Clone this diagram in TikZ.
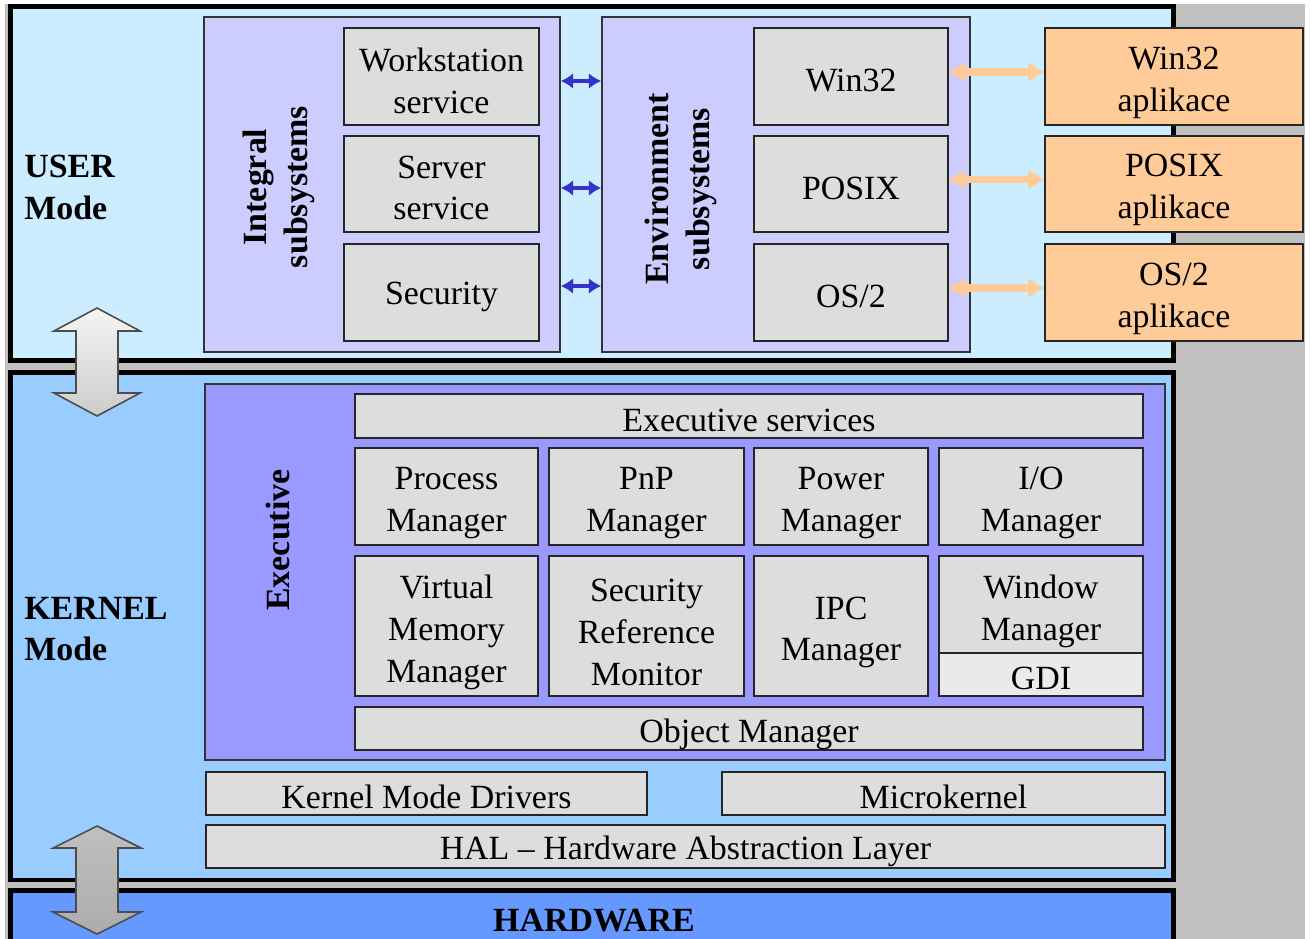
\documentclass[tikz,border=0pt]{standalone}
\usepackage{fontspec}
\setmainfont{Liberation Serif}
\usetikzlibrary{arrows.meta}
\definecolor{bggray}{HTML}{C0C0C0}
\definecolor{userbg}{HTML}{CCECFF}
\definecolor{kernbg}{HTML}{99CCFF}
\definecolor{hwbg}{HTML}{6699FF}
\definecolor{lav}{HTML}{CCCCFF}
\definecolor{execbg}{HTML}{9999FF}
\definecolor{boxgray}{HTML}{DDDDDD}
\definecolor{gdigray}{HTML}{EAEAEA}
\definecolor{appor}{HTML}{FFCC99}
\definecolor{arrblue}{HTML}{3333CC}
\def\tsh{0.1cm}
\newcommand\bx[7][box]{\node[#1, minimum width={(#5-#3)*0.02cm}, minimum height={(#6-#4)*0.02cm}] (#2) at ({(#3+#5)/2},{(#4+#6)/2}) {};
  \node[txt] (#2t) at ([yshift=-\tsh]#2.center) {#7};}
\tikzset{
  txt/.style={font=\fontsize{19.3}{23.8}\selectfont, align=center, inner sep=0pt},
  box/.style={draw=black!85, fill=boxgray, line width=1.1pt, inner sep=0pt},
  appbox/.style={box, fill=appor},
  gdibox/.style={box, fill=gdigray},
  grp/.style={draw=black!80, line width=0.9pt, fill=lav, inner sep=0pt},
  execgrp/.style={grp, fill=execbg},
  panel/.style={draw=black, line width=2.7pt, inner sep=0pt},
  lbl/.style={txt, font=\fontsize{19.3}{23.5}\selectfont\bfseries},
  barr/.style={draw=arrblue, line width=2.1pt, {Latex[length=7pt,width=9pt]}-{Latex[length=7pt,width=9pt]}},
  oarr/.style={draw=appor, line width=4pt, {Triangle[length=9pt,width=10pt]}-{Triangle[length=9pt,width=10pt]}},
  bigarr/.style={draw=black!70, line width=0.9pt}
}
\begin{document}
\begin{tikzpicture}[x=0.02cm, y=-0.02cm]
\useasboundingbox (0,0) rectangle (1311,939);
\fill[bggray] (5,4) rectangle (1305,939);
% panels
\def\tsh{0cm}
\bx[panel, fill=userbg]{user}{10.5}{6.5}{1173.5}{360.5}{}
\bx[panel, fill=kernbg]{kernel}{10.5}{372.5}{1173.5}{880}{}
\bx[panel, fill=hwbg]{hw}{10.5}{890.5}{1173.5}{960}{}
\node[lbl, align=left, anchor=north west] (userl) at (24,155) {USER\\Mode};
\node[lbl, align=left, anchor=north west] (kernl) at (24,597) {KERNEL\\Mode};
\node[lbl, anchor=base] (hwl) at (594,931) {HARDWARE};
% integral subsystems
\bx[grp]{intg}{204}{17}{560}{352}{}
\node[lbl, rotate=90] (intl) at (279,187) {Integral\\subsystems};
\def\tsh{0.08cm}
\bx{ws}{344}{28}{539}{125}{Workstation\\service}
\bx{ss}{344}{136}{539}{232}{Server\\service}
\bx{sec}{344}{244}{539}{341}{Security}
% environment subsystems
\bx[grp]{env}{602}{17}{970}{352}{}
\node[lbl, rotate=90] (envl) at (681,189) {Environment\\subsystems};
\bx{w32}{754}{28}{948}{125}{Win32}
\bx{psx}{754}{136}{948}{232}{POSIX}
\bx{os2}{754}{244}{948}{341}{OS/2}
% applications
\def\tsh{0.12cm}
\bx[appbox]{w32a}{1045}{28}{1303}{125}{Win32\\aplikace}
\bx[appbox]{psxa}{1045}{136}{1303}{232}{POSIX\\aplikace}
\bx[appbox]{os2a}{1045}{244}{1303}{341}{OS/2\\aplikace}
% arrows user
\coordinate (b1) at (580,81);
\coordinate (b2) at (580,188);
\coordinate (b3) at (580,286);
\draw[barr] (intg.east |- b1) -- (env.west |- b1);
\draw[barr] (intg.east |- b2) -- (env.west |- b2);
\draw[barr] (intg.east |- b3) -- (env.west |- b3);
\draw[oarr] ([yshift=0.09cm]w32.east) -- ([yshift=0.09cm]w32a.west);
\draw[oarr] ([yshift=0.09cm]psx.east) -- ([yshift=0.09cm]psxa.west);
\draw[oarr] ([yshift=0.09cm]os2.east) -- ([yshift=0.09cm]os2a.west);
% executive
\def\tsh{0cm}
\bx[execgrp]{exec}{205}{384}{1165}{760}{}
\node[lbl, rotate=90] (execl) at (278,540) {Executive};
\def\tsh{0.08cm}
\bx{es}{355}{394}{1143}{438}{Executive services}
\def\tsh{0.13cm}
\bx{pm}{355}{448}{538}{545}{Process\\Manager}
\bx{pnp}{549}{448}{744}{545}{PnP\\Manager}
\bx{pwr}{754}{448}{928}{545}{Power\\Manager}
\bx{io}{939}{448}{1143}{545}{I/O\\Manager}
\bx{vmm}{355}{556}{538}{696}{Virtual\\Memory\\Manager}
\bx{srm}{549}{556}{744}{696}{Security\\Reference\\Monitor}
\bx{ipc}{754}{556}{928}{696}{IPC\\Manager}
\bx{wm}{939}{556}{1143}{653}{Window\\Manager}
\def\tsh{0.07cm}
\bx[gdibox]{gdi}{939}{653}{1143}{696}{GDI}
\def\tsh{0.12cm}
\bx{om}{355}{707}{1143}{750}{Object Manager}
% kernel bottom
\def\tsh{0.07cm}
\bx{kmd}{206}{772}{647}{815}{Kernel Mode Drivers}
\bx{mk}{722}{772}{1165}{815}{Microkernel}
\def\tsh{0.1cm}
\bx{hal}{206}{825}{1165}{868}{HAL -- Hardware Abstraction Layer}
% big arrows
\draw[bigarr, top color=gray!8, bottom color=gray!40]
  (97,308) -- (140,331) -- (118,331) -- (118,393) -- (140,393) -- (97,416)
  -- (54,393) -- (76,393) -- (76,331) -- (54,331) -- cycle;
\draw[bigarr, top color=gray!50, bottom color=gray!65]
  (97,826) -- (141,848) -- (118,848) -- (118,912) -- (141,912) -- (97,934)
  -- (53,912) -- (76,912) -- (76,848) -- (53,848) -- cycle;
\end{tikzpicture}
\end{document}
